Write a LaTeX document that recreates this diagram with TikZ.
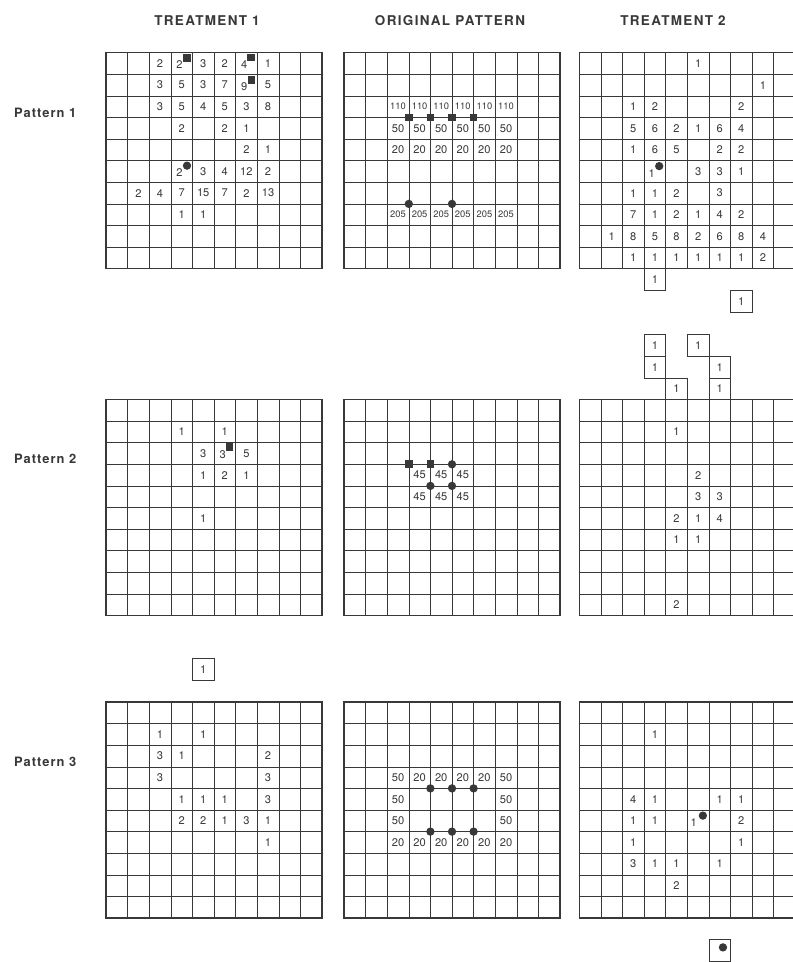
\documentclass[tikz,border=0pt]{standalone}
\usepackage{fontspec}
\setmainfont{TeX Gyre Heros}
\usetikzlibrary{positioning}
\definecolor{ink}{rgb}{0.22,0.22,0.22}
\tikzstyle{cellline}=[draw=ink, line width=0.5pt]
\tikzstyle{frame}=[draw=ink, line width=0.9pt]
\tikzstyle{num}=[inner sep=0pt, text=ink, font=\fontsize{9.5}{10}\selectfont]
\tikzstyle{bignum}=[num, font=\fontsize{8}{9}\selectfont]
\tikzstyle{head}=[text=ink, font=\bfseries\fontsize{11.5}{13}\selectfont\addfontfeature{LetterSpace=10}]
\tikzstyle{rowlabel}=[anchor=west, text=ink, font=\bfseries\fontsize{11}{12}\selectfont\addfontfeature{LetterSpace=8}]
\tikzstyle{sq}=[fill=ink, minimum size=0.23cm, inner sep=0pt]
\tikzstyle{dot}=[circle, fill=ink, minimum size=0.25cm, inner sep=0pt]
\tikzstyle{extra}=[num, draw=ink, line width=0.6pt, minimum size=0.648cm]

% one 10 x 10 sheet, drawn in cell units
\newcommand{\gridlines}{%
  \foreach \k in {1,...,9} {
    \draw[cellline] (\k,0) -- (\k,10);
    \draw[cellline] (0,\k) -- (10,\k);
  }
  \draw[frame] (0,0) rectangle (10,10);}
% #1 sheet name, #2 row, #3 list of column/value
\newcommand{\vals}[3]{%
  \foreach \c/\v in {#3} \node[num] (#1-\c-#2) at (\c+0.5,#2+0.5) {\v};}
\newcommand{\bigvals}[3]{%
  \foreach \c/\v in {#3} \node[bignum] (#1-\c-#2) at (\c+0.5,#2+0.5) {\v};}

\begin{document}
\begin{tikzpicture}[x=0.03cm, y=-0.03cm]
    \useasboundingbox (0,0) rectangle (793,962);

    \node[head] (h1) at (207,21) {TREATMENT 1};
    \node[head] (h2) at (450,21) {ORIGINAL PATTERN};
    \node[head] (h3) at (673,21) {TREATMENT 2};

    \node[rowlabel] (p1) at (10,112.5) {Pattern 1};
    \node[rowlabel] (p2) at (10,459) {Pattern 2};
    \node[rowlabel] (p3) at (10,762) {Pattern 3};

    % Pattern 1
    \begin{scope}[shift={(106,52.7)}, x=0.648cm, y=-0.648cm]
        \gridlines
        \vals{ta}{0}{2/2, 4/3, 5/2, 7/1}
        \node[num] (ta-3-0) at (3.4,0.55) {2};
        \node[sq] (ta-s1) at (3.76,0.24) {};
        \node[num] (ta-6-0) at (6.4,0.55) {4};
        \node[sq] (ta-s2) at (6.7,0.22) {};
        \vals{ta}{1}{2/3, 3/5, 4/3, 5/7, 7/5}
        \node[num] (ta-6-1) at (6.4,1.55) {9};
        \node[sq] (ta-s3) at (6.74,1.26) {};
        \vals{ta}{2}{2/3, 3/5, 4/4, 5/5, 6/3, 7/8}
        \vals{ta}{3}{3/2, 5/2, 6/1}
        \vals{ta}{4}{6/2, 7/1}
        \vals{ta}{5}{4/3, 5/4, 6/12, 7/2}
        \node[num] (ta-3-5) at (3.4,5.55) {2};
        \node[dot] (ta-d1) at (3.75,5.23) {};
        \vals{ta}{6}{1/2, 2/4, 3/7, 4/15, 5/7, 6/2, 7/13}
        \vals{ta}{7}{3/1, 4/1}
    \end{scope}

    \begin{scope}[shift={(344,52.7)}, x=0.648cm, y=-0.648cm]
        \gridlines
        \bigvals{oa}{2}{2/110, 3/110, 4/110, 5/110, 6/110, 7/110}
        \vals{oa}{3}{2/50, 3/50, 4/50, 5/50, 6/50, 7/50}
        \vals{oa}{4}{2/20, 3/20, 4/20, 5/20, 6/20, 7/20}
        \bigvals{oa}{7}{2/205, 3/205, 4/205, 5/205, 6/205, 7/205}
        \foreach \c in {3,...,6} \node[sq] (oa-s\c) at (\c,3) {};
        \node[dot] (oa-d1) at (3,7) {};
        \node[dot] (oa-d2) at (5,7) {};
    \end{scope}

    \begin{scope}[shift={(579.3,52.7)}, x=0.648cm, y=-0.648cm]
        \gridlines
        \vals{tb}{0}{5/1}
        \vals{tb}{1}{8/1}
        \vals{tb}{2}{2/1, 3/2, 7/2}
        \vals{tb}{3}{2/5, 3/6, 4/2, 5/1, 6/6, 7/4}
        \vals{tb}{4}{2/1, 3/6, 4/5, 6/2, 7/2}
        \vals{tb}{5}{5/3, 6/3, 7/1}
        \node[num] (tb-3-5) at (3.35,5.6) {1};
        \node[dot] (tb-d1) at (3.7,5.25) {};
        \vals{tb}{6}{2/1, 3/1, 4/2, 6/3}
        \vals{tb}{7}{2/7, 3/1, 4/2, 5/1, 6/4, 7/2}
        \vals{tb}{8}{1/1, 2/8, 3/5, 4/8, 5/2, 6/6, 7/8, 8/4}
        \vals{tb}{9}{2/1, 3/1, 4/1, 5/1, 6/1, 7/1, 8/2}
        \node[extra] (tb-x1) at (3.5,10.5) {1};
        \node[extra] (tb-x2) at (7.5,11.5) {1};
    \end{scope}

    % Pattern 2
    \begin{scope}[shift={(106,399.5)}, x=0.648cm, y=-0.648cm]
        \gridlines
        \vals{tc}{1}{3/1, 5/1}
        \vals{tc}{2}{4/3, 6/5}
        \node[num] (tc-5-2) at (5.4,2.55) {3};
        \node[sq] (tc-s1) at (5.71,2.2) {};
        \vals{tc}{3}{4/1, 5/2, 6/1}
        \vals{tc}{5}{4/1}
    \end{scope}

    \begin{scope}[shift={(344,399.5)}, x=0.648cm, y=-0.648cm]
        \gridlines
        \vals{ob}{3}{3/45, 4/45, 5/45}
        \vals{ob}{4}{3/45, 4/45, 5/45}
        \node[sq] (ob-s1) at (3,3) {};
        \node[sq] (ob-s2) at (4,3) {};
        \node[dot] (ob-d1) at (5,3) {};
        \node[dot] (ob-d2) at (4,4) {};
        \node[dot] (ob-d3) at (5,4) {};
    \end{scope}

    \begin{scope}[shift={(579.3,399.5)}, x=0.648cm, y=-0.648cm]
        \gridlines
        \vals{td}{1}{4/1}
        \vals{td}{3}{5/2}
        \vals{td}{4}{5/3, 6/3}
        \vals{td}{5}{4/2, 5/1, 6/4}
        \vals{td}{6}{4/1, 5/1}
        \vals{td}{9}{4/2}
        \node[extra] (td-x1) at (3.5,-2.5) {1};
        \node[extra] (td-x2) at (3.5,-1.5) {1};
        \node[extra] (td-x3) at (4.5,-0.5) {1};
        \node[extra] (td-x4) at (5.5,-2.5) {1};
        \node[extra] (td-x5) at (6.5,-1.5) {1};
        \node[extra] (td-x6) at (6.5,-0.5) {1};
    \end{scope}

    % Pattern 3
    \begin{scope}[shift={(106,702)}, x=0.648cm, y=-0.648cm]
        \gridlines
        \vals{te}{1}{2/1, 4/1}
        \vals{te}{2}{2/3, 3/1, 7/2}
        \vals{te}{3}{2/3, 7/3}
        \vals{te}{4}{3/1, 4/1, 5/1, 7/3}
        \vals{te}{5}{3/2, 4/2, 5/1, 6/3, 7/1}
        \vals{te}{6}{7/1}
        \node[extra] (te-x1) at (4.5,-1.5) {1};
    \end{scope}

    \begin{scope}[shift={(344,702)}, x=0.648cm, y=-0.648cm]
        \gridlines
        \vals{oc}{3}{2/50, 3/20, 4/20, 5/20, 6/20, 7/50}
        \vals{oc}{4}{2/50, 7/50}
        \vals{oc}{5}{2/50, 7/50}
        \vals{oc}{6}{2/20, 3/20, 4/20, 5/20, 6/20, 7/20}
        \foreach \c in {4,5,6} {
            \node[dot] (oc-u\c) at (\c,4) {};
            \node[dot] (oc-l\c) at (\c,6) {};
        }
    \end{scope}

    \begin{scope}[shift={(579.3,702)}, x=0.648cm, y=-0.648cm]
        \gridlines
        \vals{tf}{1}{3/1}
        \vals{tf}{4}{2/4, 3/1, 6/1, 7/1}
        \vals{tf}{5}{2/1, 3/1, 7/2}
        \node[num] (tf-5-5) at (5.3,5.6) {1};
        \node[dot] (tf-d1) at (5.72,5.26) {};
        \vals{tf}{6}{2/1, 7/1}
        \vals{tf}{7}{2/3, 3/1, 4/1, 6/1}
        \vals{tf}{8}{4/2}
        \node[extra] (tf-x1) at (6.5,11.5) {};
        \node[dot] (tf-d2) at (6.65,11.36) {};
    \end{scope}

\end{tikzpicture}
\end{document}
